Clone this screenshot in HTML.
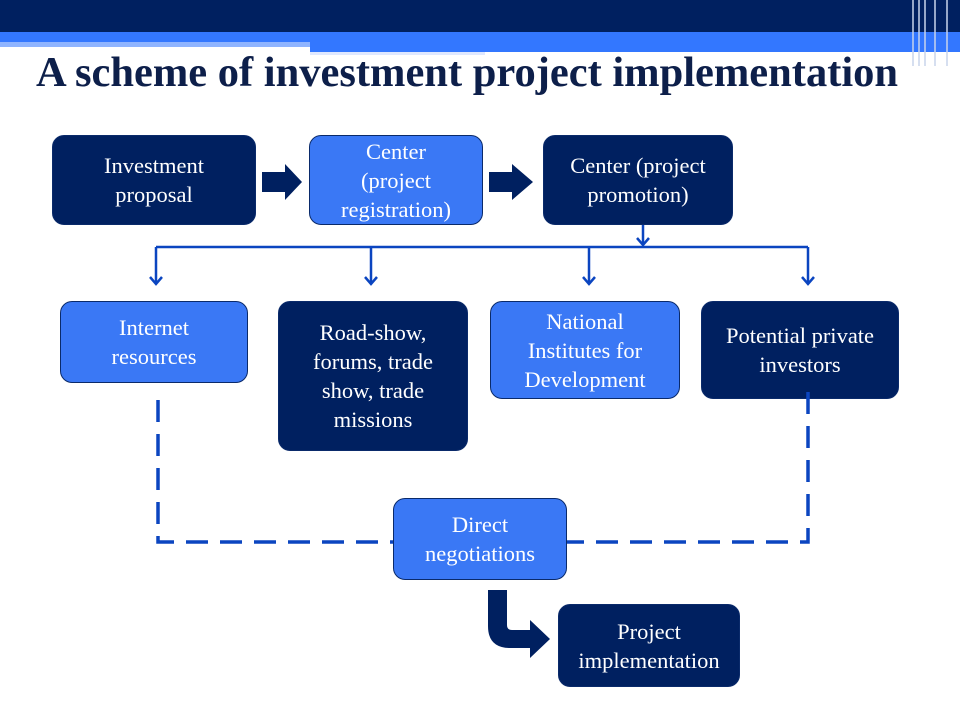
<!DOCTYPE html>
<html><head><style>
body{margin:0;width:960px;height:720px;background:#fff;position:relative;overflow:hidden;font-family:"Liberation Serif",serif}
.b{position:absolute;box-sizing:border-box;border-radius:12px;color:#fff;display:flex;align-items:center;justify-content:center;text-align:center;font-size:22.5px;line-height:29px;border:1.5px solid #0a2a6a;white-space:nowrap}
.d{background:#002060}
.l{background:#3a78f5}
.t{position:absolute;left:36px;top:48px;font-size:42.5px;font-weight:bold;color:#0d1f4a;white-space:nowrap}
</style></head><body>
<div style="position:absolute;left:0;top:0;width:960px;height:32px;background:#002060"></div>
<div style="position:absolute;left:0;top:32px;width:960px;height:10px;background:#3377ff"></div>
<div style="position:absolute;left:0;top:42px;width:310px;height:5px;background:#8fb4ff"></div>
<div style="position:absolute;left:310px;top:42px;width:650px;height:10px;background:#3377ff"></div>
<div style="position:absolute;left:310px;top:52px;width:175px;height:3px;background:#dfe8ff"></div>
<svg style="position:absolute;left:905px;top:0" width="55" height="66"><g stroke="#c8d4ea" stroke-width="1.5"><line x1="8" y1="0" x2="8" y2="66"/><line x1="14" y1="0" x2="14" y2="66"/><line x1="20" y1="0" x2="20" y2="66"/><line x1="30" y1="0" x2="30" y2="66"/><line x1="42" y1="0" x2="42" y2="66"/></g></svg>
<div class="t">A scheme of investment project implementation</div>

<div class="b d" style="left:52px;top:135px;width:204px;height:90px">Investment<br>proposal</div>
<div class="b l" style="left:309px;top:135px;width:174px;height:90px">Center<br>(project<br>registration)</div>
<div class="b d" style="left:543px;top:135px;width:190px;height:90px">Center (project<br>promotion)</div>
<div class="b l" style="left:60px;top:301px;width:188px;height:82px">Internet<br>resources</div>
<div class="b d" style="left:278px;top:301px;width:190px;height:150px">Road-show,<br>forums, trade<br>show, trade<br>missions</div>
<div class="b l" style="left:490px;top:301px;width:190px;height:98px">National<br>Institutes for<br>Development</div>
<div class="b d" style="left:701px;top:301px;width:198px;height:98px">Potential private<br>investors</div>
<div class="b l" style="left:393px;top:498px;width:174px;height:82px">Direct<br>negotiations</div>
<div class="b d" style="left:558px;top:604px;width:182px;height:83px">Project<br>implementation</div>

<svg style="position:absolute;left:0;top:0" width="960" height="720">
<g fill="#002060">
<polygon points="262,172 285,172 285,164 302,182 285,200 285,192 262,192"/>
<polygon points="489,172 512,172 512,164 533,182 512,200 512,192 489,192"/>
<path d="M488,590 L507,590 L507,625 Q507,630 512,630 L530,630 L530,620 L550,639 L530,658 L530,648 L510,648 Q488,648 488,626 Z"/>
</g>
<g stroke="#0b45c0" stroke-width="2.5" fill="none">
<line x1="643" y1="225" x2="643" y2="244"/>
<polyline points="637,238 643,245 649,238"/>
<line x1="156" y1="247" x2="808" y2="247"/>
<line x1="156" y1="247" x2="156" y2="284"/><polyline points="150,277 156,284 162,277"/>
<line x1="371" y1="247" x2="371" y2="284"/><polyline points="365,277 371,284 377,277"/>
<line x1="589" y1="247" x2="589" y2="284"/><polyline points="583,277 589,284 595,277"/>
<line x1="808" y1="247" x2="808" y2="284"/><polyline points="802,277 808,284 814,277"/>
</g>
<g stroke="#0b45c0" stroke-width="3.5" fill="none" stroke-dasharray="22,12">
<polyline points="158,400 158,542 393,542"/>
<polyline points="808,392 808,542 567,542"/>
</g>
</svg>
</body></html>
